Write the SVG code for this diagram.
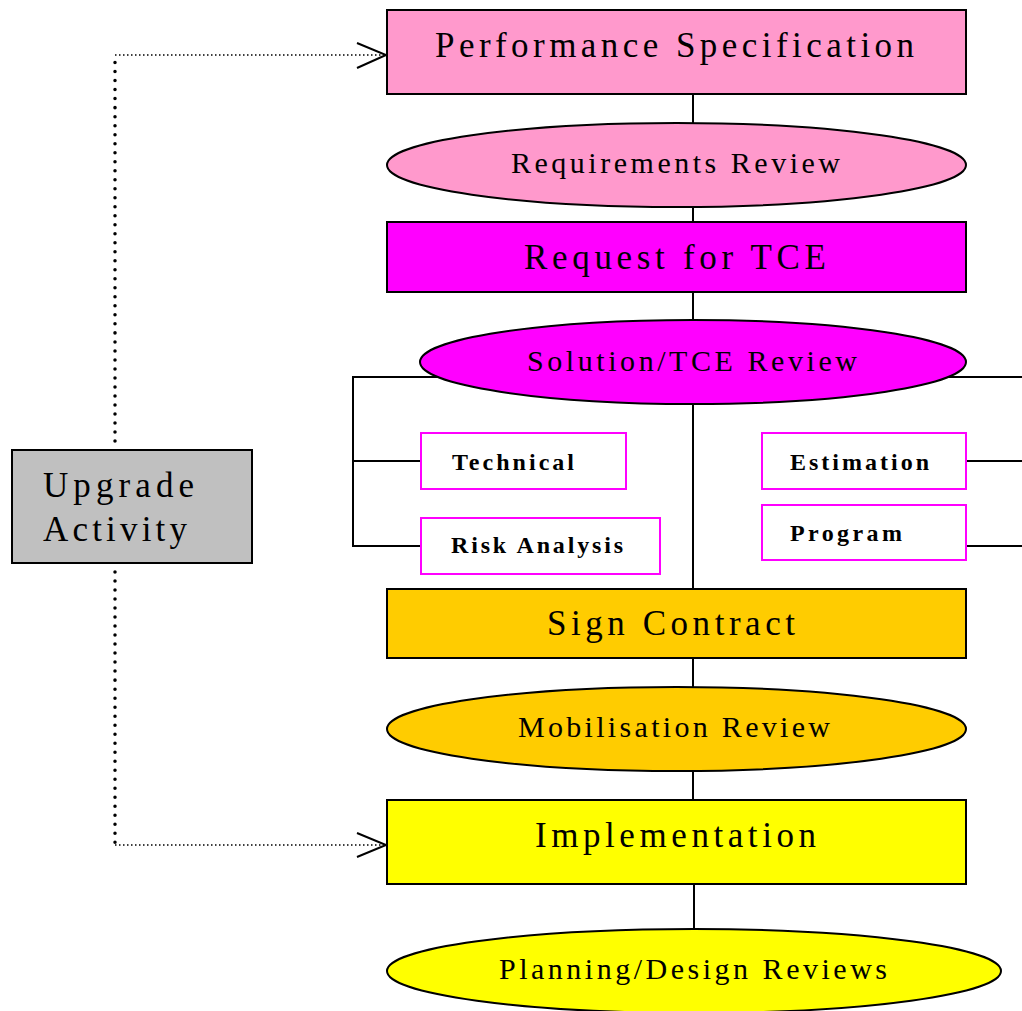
<svg xmlns="http://www.w3.org/2000/svg" width="1022" height="1011" viewBox="0 0 1022 1011">
<style>
.box{stroke:#000;stroke-width:2}
.sub{fill:#fff;stroke:#ff00ff;stroke-width:2}
.t{font-family:"Liberation Serif","Times New Roman",serif;fill:#000}
.big{font-size:35px}
.mid{font-size:30px}
.sm{font-size:24px;font-weight:bold}
.ln{stroke:#000;stroke-width:2;fill:none}
.dv{stroke:#000;stroke-width:3.5;stroke-linecap:round;stroke-dasharray:0.01 9;fill:none}
.dh{stroke:#000;stroke-width:1.5;stroke-dasharray:1.5 2.5;fill:none}
.ah{stroke:#000;stroke-width:2;fill:none}
</style>
<rect width="1022" height="1011" fill="#fff"/>
<g id="connectors">
<path class="ln" d="M693 94V123M693 207V222M693 292V320M693 404V589M693 658V687M693 771V800M694 884V930"/>
<path class="ln" d="M440 377H353V546H421M353 461H421"/>
<path class="ln" d="M946 377H1022M966 461H1022M966 546H1022"/>
<path class="dv" d="M115 441V61"/>
<path class="dh" d="M115 55H384"/>
<path class="ah" d="M357 43L386 55L357 68"/>
<path class="dv" d="M115 572V845"/>
<path class="dh" d="M115 845H384"/>
<path class="ah" d="M357 833L386 845L357 857"/>
</g>
<g id="performance-specification">
<rect class="box" x="387" y="10" width="579" height="84" fill="#ff99cc"/>
<text class="t big" x="435" y="57" textLength="479" lengthAdjust="spacing">Performance Specification</text>
</g>
<g id="requirements-review">
<ellipse class="box" cx="676.5" cy="165" rx="289.5" ry="42" fill="#ff99cc"/>
<text class="t mid" x="511" y="173" textLength="329" lengthAdjust="spacing">Requirements Review</text>
</g>
<g id="request-for-tce">
<rect class="box" x="387" y="222" width="579" height="70" fill="#ff00ff"/>
<text class="t big" x="524" y="269" textLength="302" lengthAdjust="spacing">Request for TCE</text>
</g>
<g id="solution-tce-review">
<ellipse class="box" cx="693" cy="362" rx="273" ry="42" fill="#ff00ff"/>
<text class="t mid" x="527" y="371" textLength="330" lengthAdjust="spacing">Solution/TCE Review</text>
</g>
<g id="technical">
<rect class="sub" x="421" y="433" width="205" height="56"/>
<text class="t sm" x="452" y="470" textLength="122" lengthAdjust="spacing">Technical</text>
</g>
<g id="risk-analysis">
<rect class="sub" x="421" y="518" width="239" height="56"/>
<text class="t sm" x="451" y="553" textLength="172" lengthAdjust="spacing">Risk Analysis</text>
</g>
<g id="estimation">
<rect class="sub" x="762" y="433" width="204" height="56"/>
<text class="t sm" x="790" y="470" textLength="139" lengthAdjust="spacing">Estimation</text>
</g>
<g id="program">
<rect class="sub" x="762" y="505" width="204" height="55"/>
<text class="t sm" x="790" y="541" textLength="112" lengthAdjust="spacing">Program</text>
</g>
<g id="sign-contract">
<rect class="box" x="387" y="589" width="579" height="69" fill="#ffcc00"/>
<text class="t big" x="547" y="635" textLength="248" lengthAdjust="spacing">Sign Contract</text>
</g>
<g id="mobilisation-review">
<ellipse class="box" cx="676.5" cy="729" rx="289.5" ry="42" fill="#ffcc00"/>
<text class="t mid" x="518" y="737" textLength="312" lengthAdjust="spacing">Mobilisation Review</text>
</g>
<g id="implementation">
<rect class="box" x="387" y="800" width="579" height="84" fill="#ffff00"/>
<text class="t big" x="535" y="847" textLength="281" lengthAdjust="spacing">Implementation</text>
</g>
<g id="planning-design-reviews">
<ellipse class="box" cx="694" cy="971" rx="307" ry="42" fill="#ffff00"/>
<text class="t mid" x="499" y="979" textLength="388" lengthAdjust="spacing">Planning/Design Reviews</text>
</g>
<g id="upgrade-activity">
<rect class="box" x="12" y="450" width="240" height="113" fill="#c0c0c0"/>
<text class="t big" x="43" y="497" textLength="151" lengthAdjust="spacing">Upgrade</text>
<text class="t big" x="43" y="541" textLength="144" lengthAdjust="spacing">Activity</text>
</g>
</svg>
